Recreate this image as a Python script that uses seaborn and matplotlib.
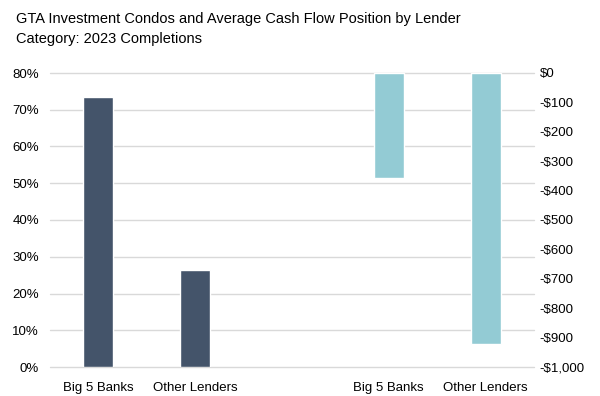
import matplotlib
matplotlib.use("Agg")
import matplotlib.pyplot as plt
import seaborn as sns
import pandas as pd
from matplotlib.ticker import FuncFormatter, MultipleLocator

# Lender categories and measured values
lenders = ["Big 5 Banks", "Other Lenders"]
share_of_condos = [73.6, 26.4]          # % of 2023 investment condo completions
avg_cash_flow = [-358, -921]            # average monthly cash flow, $

share_slots = [0, 1]
cash_slots = [3, 4]

sns.set_theme(style="white")
plt.rcParams["font.family"] = ["Liberation Sans", "DejaVu Sans"]

dark = "#44546A"
light = "#93CBD4"
grid = "#D9D9D9"

fig = plt.figure(figsize=(6.0, 3.96), dpi=100)
ax = fig.add_axes([50 / 600, 1 - 367 / 396, 484 / 600, 294 / 396])
ax2 = ax.twinx()

share_df = pd.DataFrame({"slot": share_slots, "value": share_of_condos})
cash_df = pd.DataFrame({"slot": cash_slots, "value": avg_cash_flow})

sns.barplot(data=share_df, x="slot", y="value", native_scale=True, width=0.31,
            color=dark, saturation=1, ax=ax, zorder=3)
sns.barplot(data=cash_df, x="slot", y="value", native_scale=True, width=0.31,
            color=light, saturation=1, ax=ax2, zorder=3)

ax.set_ylim(0, 80)
ax.yaxis.set_major_locator(MultipleLocator(10))
ax.yaxis.set_major_formatter(FuncFormatter(lambda v, _: f"{v:.0f}%"))
ax2.set_ylim(-1000, 0)
ax2.yaxis.set_major_locator(MultipleLocator(100))
ax2.yaxis.set_major_formatter(
    FuncFormatter(lambda v, _: "$0" if v == 0 else f"-${abs(v):,.0f}"))

for a in (ax, ax2):
    a.set_xlabel("")
    a.set_ylabel("")
    for s in a.spines.values():
        s.set_visible(False)
    a.tick_params(length=0, labelsize=9.5, colors="#000000")

ax.set_xticks(share_slots + cash_slots)
ax.set_xticklabels(lenders + lenders)
ax.set_xlim(-0.5, 4.5)
ax2.tick_params(axis="x", labelbottom=False, labeltop=False)
ax.tick_params(axis="x", pad=10.5)
ax.tick_params(axis="y", pad=8)
ax2.tick_params(axis="y", pad=4)

# horizontal gridlines follow the percentage axis, behind both bar sets
ax.set_axisbelow(True)
ax.yaxis.grid(True, color=grid, linewidth=1.0)
for gl in ax.yaxis.get_gridlines():
    gl.set_clip_on(False)

fig.text(16 / 600, 1 - 23 / 396,
         "GTA Investment Condos and Average Cash Flow Position by Lender",
         ha="left", va="baseline", fontsize=10.5, color="#000000")
fig.text(16 / 600, 1 - 43.5 / 396, "Category: 2023 Completions",
         ha="left", va="baseline", fontsize=10.5, color="#000000")

fig.savefig("out.png", dpi=100, facecolor="white")
